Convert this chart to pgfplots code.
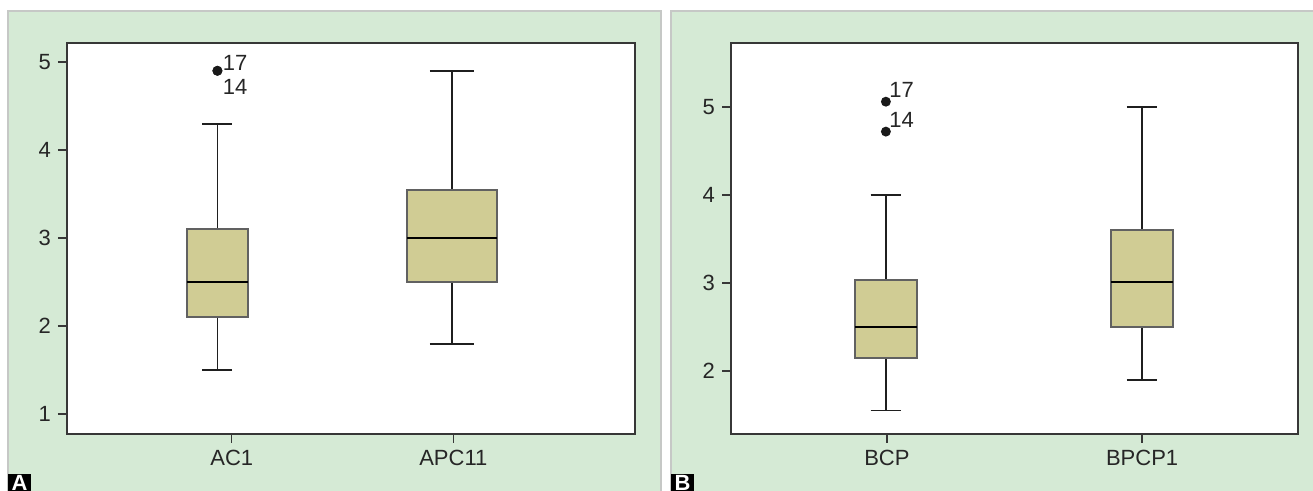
\documentclass[border=0pt]{standalone}
\usepackage{fontspec}
\setmainfont{Liberation Sans}
\usepackage{pgfplots}
\pgfplotsset{compat=1.18}
\usepgfplotslibrary{statistics}
\definecolor{panelgreen}{RGB}{213,234,213}
\definecolor{panelborder}{RGB}{198,200,198}
\definecolor{boxfill}{RGB}{208,204,148}
\definecolor{axisgray}{RGB}{55,55,55}
\pgfplotsset{
  panel/.style={
    anchor=south west, scale only axis,
    height=195.5pt,
    tick align=outside, tick pos=left,
    major tick length=4.5pt,
    axis line style={axisgray, line width=0.8pt},
    every tick/.style={axisgray, line width=0.6pt},
    axis background/.style={fill=white},
    /pgf/number format/assume math mode=true,
    tick label style={font=\fontsize{11}{13}\selectfont, text=black!85},
    clip=false,
    boxplot/draw direction=y,
  },
  bx/.style={draw=black!88, line width=0.9pt, fill=boxfill,
    mark=*, mark size=2pt, mark options={fill=black!90, draw=black!90},
    boxplot/every box/.style={draw=black!62, line width=0.9pt},
    boxplot/every median/.style={draw=black, line width=1.1pt}},
}
\begin{document}
\begin{tikzpicture}
\useasboundingbox (0,0) rectangle (656.5pt,245.5pt);
\fill[white] (0,0) rectangle (656.5pt,245.5pt);
\fill[panelgreen] (4pt,0) rectangle (330.5pt,240pt);
\draw[panelborder, line width=0.9pt] (4pt,0) -- (4pt,240pt) -- (330.5pt,240pt) -- (330.5pt,0);
\fill[panelgreen] (335.5pt,0) rectangle (656.5pt,240pt);
\draw[panelborder, line width=0.9pt] (335.5pt,0) -- (335.5pt,240pt) -- (657pt,240pt);

\begin{axis}[panel, at={(33.5pt,28.5pt)}, width=284pt,
  xmin=0.256, xmax=2.82, ymin=0.773, ymax=5.216,
  xtick={1,2}, xticklabels={AC1,APC11}, ytick={1,2,3,4,5}]
\addplot[bx, boxplot prepared={draw position=0.935,
  lower whisker=1.5, lower quartile=2.1, median=2.5,
  upper quartile=3.1, upper whisker=4.3,
  box extend=0.275, whisker extend=0.135}]
  table[row sep=\\, y index=0] {data\\ 4.9\\ 4.9\\};
\addplot[bx, boxplot prepared={draw position=1.994,
  lower whisker=1.8, lower quartile=2.5, median=3.0,
  upper quartile=3.55, upper whisker=4.9,
  box extend=0.406, whisker extend=0.2}]
  coordinates {};
\node[anchor=south west, inner sep=0pt, font=\fontsize{11}{13}\selectfont, text=black!85]
  at ([xshift=2.5pt]axis cs:0.935,4.9) {17};
\node[anchor=north west, inner sep=0pt, font=\fontsize{11}{13}\selectfont, text=black!85]
  at ([xshift=2.5pt,yshift=-4pt]axis cs:0.935,4.9) {14};
\end{axis}

\begin{axis}[panel, at={(365.5pt,28.5pt)}, width=283.5pt,
  xmin=0.389, xmax=2.611, ymin=1.284, ymax=5.727,
  xtick={1,2}, xticklabels={BCP,BPCP1}, ytick={2,3,4,5}]
\addplot[bx, boxplot prepared={draw position=0.996,
  lower whisker=1.55, lower quartile=2.15, median=2.5,
  upper quartile=3.03, upper whisker=4.0,
  box extend=0.243, whisker extend=0.12}]
  table[row sep=\\, y index=0] {data\\ 5.06\\ 4.72\\};
\addplot[bx, boxplot prepared={draw position=2.0,
  lower whisker=1.9, lower quartile=2.5, median=3.01,
  upper quartile=3.6, upper whisker=5.0,
  box extend=0.243, whisker extend=0.12}]
  coordinates {};
\node[anchor=south west, inner sep=0pt, font=\fontsize{11}{13}\selectfont, text=black!85]
  at ([xshift=1.5pt,yshift=2pt]axis cs:0.996,5.06) {17};
\node[anchor=south west, inner sep=0pt, font=\fontsize{11}{13}\selectfont, text=black!85]
  at ([xshift=1.5pt,yshift=2pt]axis cs:0.996,4.72) {14};
\end{axis}

\node[anchor=south west, fill=black, text=white, font=\bfseries\fontsize{11}{13}\selectfont,
  inner xsep=1.6pt, inner ysep=0.8pt] at (4pt,-0.8pt) {A};
\node[anchor=south west, fill=black, text=white, font=\bfseries\fontsize{11}{13}\selectfont,
  inner xsep=1.6pt, inner ysep=0.8pt] at (335.5pt,-0.8pt) {B};
\end{tikzpicture}
\end{document}
